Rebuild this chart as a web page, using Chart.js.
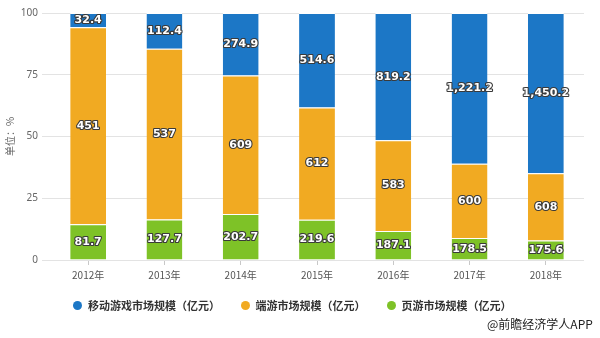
<!DOCTYPE html>
<html>
<head>
<meta charset="utf-8">
<script src="https://cdn.jsdelivr.net/npm/chart.js@4/dist/chart.umd.min.js"></script>
<style>
    html, body { margin: 0; padding: 0; background: #fff; }
    #wrap { position: relative; width: 600px; height: 338px; }
    #gameChart { display: block; }
    #legend span { position: absolute; font: bold 11px "Noto Sans CJK SC", sans-serif; color: #333; line-height: 13px; white-space: nowrap; }
    #legend i { position: absolute; width: 9px; height: 9px; border-radius: 50%; }
    #credit { position: absolute; left: 487px; top: 315px; font: 12px "Noto Sans CJK SC", sans-serif; color: #222; white-space: nowrap; }
</style>
</head>
<body>
<div id="wrap">
    <canvas id="gameChart" width="600" height="338"></canvas>
    <div id="legend"></div>
    <div id="credit">@前瞻经济学人APP</div>
</div>
<script>
// Chinese game market size (亿元), shown as share of total
const years = ['2012年', '2013年', '2014年', '2015年', '2016年', '2017年', '2018年'];
const mobileGame = [32.4, 112.4, 274.9, 514.6, 819.2, 1221.2, 1450.2];
const clientGame = [451, 537, 609, 612, 583, 600, 608];
const webGame = [81.7, 127.7, 202.7, 219.6, 187.1, 178.5, 175.6];
const yTicks = [0, 25, 50, 75, 100];

const COLORS = { mobile: '#1c77c6', client: '#f1aa22', web: '#7ec227' };

const totals = years.map((_, i) => mobileGame[i] + clientGame[i] + webGame[i]);
const toPct = arr => arr.map((v, i) => v / totals[i] * 100);

// legend in the order of the reference (top series first)
const legendItems = [
    { text: '移动游戏市场规模（亿元）', color: COLORS.mobile, dot: 73 },
    { text: '端游市场规模（亿元）', color: COLORS.client, dot: 240.5 },
    { text: '页游市场规模（亿元）', color: COLORS.web, dot: 386.5 }
];

// white value labels with dark outline, centred in each segment
const barLabels = {
    id: 'barLabels',
    afterDatasetsDraw(chart) {
        const ctx = chart.ctx;
        ctx.save();
        ctx.font = 'bold 11px "DejaVu Sans"';
        ctx.textAlign = 'center';
        ctx.textBaseline = 'middle';
        ctx.lineJoin = 'round';
        ctx.lineWidth = 2.2;
        ctx.strokeStyle = '#3a3a3a';
        ctx.fillStyle = '#fff';
        chart.data.datasets.forEach((ds, i) => {
            chart.getDatasetMeta(i).data.forEach((bar, j) => {
                const txt = ds.raw[j].toLocaleString('en-US');
                const y = (bar.y + bar.base) / 2;
                ctx.strokeText(txt, bar.x, y);
                ctx.fillText(txt, bar.x, y);
            });
        });
        ctx.restore();
    }
};

function buildLegend() {
    const box = document.getElementById('legend');
    box.innerHTML = legendItems.map(item => `
        <i style="left:${item.dot}px;top:301px;background:${item.color}"></i>
        <span style="left:${item.dot + 15}px;top:299px">${item.text}</span>
    `).join('');
}

new Chart(document.getElementById('gameChart'), {
    type: 'bar',
    data: {
        labels: years,
        datasets: [
            { label: '页游市场规模（亿元）', data: toPct(webGame), raw: webGame, backgroundColor: COLORS.web },
            { label: '端游市场规模（亿元）', data: toPct(clientGame), raw: clientGame, backgroundColor: COLORS.client },
            { label: '移动游戏市场规模（亿元）', data: toPct(mobileGame), raw: mobileGame, backgroundColor: COLORS.mobile }
        ].map(ds => Object.assign(ds, {
            borderColor: '#fff',
            borderWidth: { top: 1, bottom: 0, left: 0, right: 0 },
            borderSkipped: false,
            categoryPercentage: 1,
            barPercentage: 0.47
        }))
    },
    options: {
        responsive: false,
        animation: false,
        layout: { padding: { top: 13, right: 16, bottom: 48, left: 0 } },
        plugins: {
            legend: { display: false },
            tooltip: { enabled: false }
        },
        scales: {
            x: {
                stacked: true,
                grid: { offset: false, drawOnChartArea: false, drawTicks: true, tickLength: 5, tickColor: '#c8c8c8' },
                border: { display: false },
                ticks: { color: '#555', padding: 4, font: { size: 10, family: '"Noto Sans CJK SC", sans-serif' } },
                afterFit: scale => { scale.height = 30; }
            },
            y: {
                stacked: true,
                min: 0,
                max: 100,
                afterBuildTicks: scale => { scale.ticks = yTicks.map(v => ({ value: v })); },
                grid: { color: '#e3e3e3', tickLength: 8 },
                border: { display: false },
                ticks: { color: '#666', padding: 4, font: { size: 10, family: '"Noto Sans", sans-serif' } },
                title: {
                    display: true,
                    text: '单位：%',
                    color: '#666',
                    padding: { top: 4, bottom: 0 },
                    font: { size: 10, family: '"Noto Sans CJK SC", sans-serif' }
                },
                afterFit: scale => { scale.width = 50; }
            }
        }
    },
    plugins: [barLabels]
});

buildLegend();
</script>
</body>
</html>
